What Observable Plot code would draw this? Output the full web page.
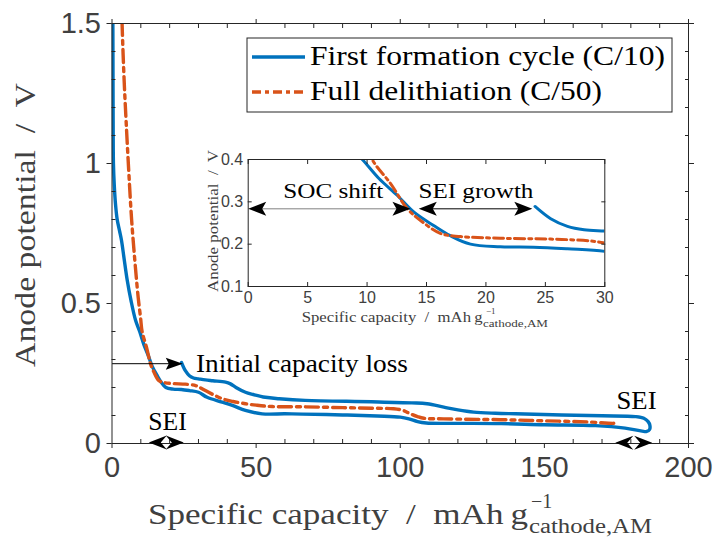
<!DOCTYPE html>
<html><head><meta charset="utf-8">
<script src="https://cdn.jsdelivr.net/npm/d3@7"></script>
<script src="https://cdn.jsdelivr.net/npm/@observablehq/plot@0.6"></script>
<style>
body{margin:0;background:#fff}
#wrap{position:relative;width:714px;height:540px;overflow:hidden}
#wrap svg{position:absolute}
text{white-space:pre}
</style>
</head><body><div id="wrap"></div>
<script>
// ---- data: first formation cycle (C/10), lithiation then delithiation
const formX = [0.2,0.3,0.35,0.4,0.5,0.8,1.2,1.8,2.6,3.3,4.2,5.3,6.6,8.2,9.6,11.0,12.55,13.95,15.6,17.0,18.7,21.2,24.0,26.85,30,33,38.2,42,46.3,52.1,60,66,80,92,100,103,106,109,120,135,150,167.7,178,183.9,185.5,186.5,186.6,186,184.5,181.6,170,156,140,133,125.5,120,115.1,109.3,104,90,67,58,53.2,49,46.3,43,41.1,39.4,35,32.4,30,28.26,26.86,25.45,24.13];
const formY = [1.6,1.5,1.3,1.15,1.0,0.92,0.857,0.8,0.76,0.725,0.66,0.582,0.51,0.439,0.40,0.355,0.315,0.2755,0.244,0.22,0.20,0.194,0.193,0.189,0.183,0.165,0.148,0.135,0.118,0.106,0.106,0.105,0.102,0.098,0.094,0.088,0.078,0.073,0.072,0.071,0.067,0.064,0.055,0.044,0.043,0.05,0.065,0.078,0.09,0.096,0.099,0.102,0.106,0.108,0.112,0.12,0.13,0.142,0.145,0.149,0.154,0.16,0.165,0.175,0.183,0.2,0.213,0.219,0.224,0.227,0.231,0.234,0.242,0.26,0.289];
// ---- data: full delithiation (C/50)
const delithX = [3.3,3.5,4.2,4.9,5.8,6.8,8.2,9.1,9.9,10.44,11.98,13.38,14.5,16.2,17.87,21.2,25.45,29,30.5,32.4,35,38.2,42,46.3,50,55.6,67,80,90,97.7,101,103.5,106,108.2,115,134.8,150,165,174.6,175.3];
const delithY = [1.6,1.5,1.3,1.15,0.975,0.8,0.62,0.52,0.45,0.4,0.343,0.284,0.256,0.225,0.218,0.214,0.212,0.207,0.2,0.189,0.175,0.16,0.15,0.142,0.137,0.132,0.131,0.128,0.126,0.124,0.118,0.106,0.096,0.09,0.088,0.085,0.081,0.077,0.0725,0.075];

const seriesNames = ["First formation cycle (C/10)", "Full delithiation (C/50)"];
const seriesColors = ["#0072BD", "#D95319"];

// ---- ticks
const xMajor = [0,50,100,150,200];
const xMinor = [10,20,30,40,60,70,80,90,110,120,130,140,160,170,180,190];
const yMajor = [0,0.5,1,1.5];
const yMinor = [0.1,0.2,0.3,0.4,0.6,0.7,0.8,0.9,1.1,1.2,1.3,1.4];
const insetXTicks = [0,5,10,15,20,25,30];
const insetYTicks = [0.1,0.2,0.3,0.4];

// ---- annotations (main)
const lossLineX = [0, 22.0];
const lossLineY = 0.285;
const mainHeadX = [24.56, 12.76, 24.9, 174.6, 187.4];
const mainHeadY = [0.285, 0.004, 0.004, 0.003, 0.003];
const mainHeadDir = [90, -90, 90, -90, 90];
const mainNoteText = ["Initial capacity loss", "SEI", "SEI"];
const mainNoteX = [29.3, 12.76, 175.2];
const mainNoteY = [0.254, 0.046, 0.120];
// ---- annotations (inset)
const socX = [0, 13.65];
const growthX = [14.35, 23.9];
const insetArrowY = 0.2835;
const insetNoteText = ["SOC shift", "SEI growth"];
const insetNoteX = [7.2, 19.2];
const insetNoteY = 0.307;

// ---- build tables
const formation = formX.map((x, i) => ({x, y: formY[i]}));
const delith = delithX.map((x, i) => ({x, y: delithY[i]}));
const lossHead = [{x: mainHeadX[0], y: mainHeadY[0], dir: mainHeadDir[0]}];
const seiHeads = mainHeadX.slice(1).map((x, i) => ({x, y: mainHeadY[i + 1], dir: mainHeadDir[i + 1]}));
const insetHeads = [
  {x: socX[0], y: insetArrowY, dir: -90}, {x: socX[1], y: insetArrowY, dir: 90},
  {x: growthX[0], y: insetArrowY, dir: -90}, {x: growthX[1], y: insetArrowY, dir: 90}
];

function headSymbol(L, W, notch) {
  return {draw(ctx) {
    ctx.moveTo(0, 0);
    ctx.lineTo(W / 2, L);
    ctx.lineTo(0, L - notch);
    ctx.lineTo(-W / 2, L);
    ctx.closePath();
  }};
}

const SERIF = "'Liberation Serif', 'Times New Roman', serif";
const SANS = "'Liberation Sans', Arial, sans-serif";
const DASH = "13,5,4,5";

const main = Plot.plot({
  width: 714, height: 540,
  marginLeft: 111.5, marginRight: 26, marginTop: 23, marginBottom: 97,
  x: {domain: [0, 200]},
  y: {domain: [0, 1.5]},
  style: {fontFamily: SANS, fontSize: "29px", color: "#262626", background: "transparent", overflow: "visible"},
  marks: [
    Plot.line(formation, {x: "x", y: "y", stroke: seriesColors[0], strokeWidth: 3.4, curve: "catmull-rom", clip: true}),
    Plot.line(delith, {x: "x", y: "y", stroke: seriesColors[1], strokeWidth: 3.4, strokeDasharray: DASH, curve: "catmull-rom", clip: true}),
    Plot.link([0], {x1: () => lossLineX[0], x2: () => lossLineX[1], y1: () => lossLineY, y2: () => lossLineY, stroke: "black", strokeWidth: 1}),
    Plot.frame({stroke: "#262626"}),
    Plot.axisX({ticks: xMajor, tickSize: 5, tickPadding: 8, tickFormat: d => String(d), label: null, fill: "#404040", fontSize: 29}),
    Plot.axisX({ticks: xMinor, tickSize: -4, text: null, label: null}),
    Plot.axisX({anchor: "top", ticks: xMajor, tickSize: 5, text: null, label: null}),
    Plot.axisX({anchor: "top", ticks: xMinor, tickSize: -4, text: null, label: null}),
    Plot.axisY({ticks: yMajor, tickSize: 5, tickPadding: 6, tickFormat: d => String(d), label: null, fill: "#404040", fontSize: 29}),
    Plot.axisY({ticks: yMinor, tickSize: -4, text: null, label: null}),
    Plot.axisY({anchor: "right", ticks: yMajor, tickSize: 5, text: null, label: null}),
    Plot.axisY({anchor: "right", ticks: yMinor, tickSize: -4, text: null, label: null}),
    Plot.dot(lossHead, {x: "x", y: "y", rotate: "dir", r: 5, symbol: headSymbol(17, 12, 3), fill: "black", stroke: null}),
    Plot.dot(seiHeads, {x: "x", y: "y", rotate: "dir", r: 5, symbol: headSymbol(18, 14, 6), fill: "black", stroke: null})
  ]
});
document.getElementById("wrap").appendChild(main);
main.style.left = "0px"; main.style.top = "0px";

function addText(svg, {x, y, text, size, family = SERIF, fill = "#000", anchor = "start", length, rotate}) {
  const t = d3.select(svg).append("text")
    .attr("transform", `translate(${x},${y})` + (rotate ? ` rotate(${rotate})` : ""))
    .attr("font-family", family).attr("font-size", size).attr("fill", fill)
    .attr("text-anchor", anchor).text(text);
  if (length) t.attr("textLength", length).attr("lengthAdjust", "spacingAndGlyphs");
  return t;
}

const sx = main.scale("x"), sy = main.scale("y");
// main annotations
const noteLen = [212, 38.4, 40];
mainNoteText.forEach((t, i) => addText(main, {x: sx.apply(mainNoteX[i]), y: sy.apply(mainNoteY[i]), text: t, size: 25, length: noteLen[i]}));

// axis labels
addText(main, {x: 148, y: 524, text: "Specific capacity  /  mAh\u2009g", size: 30, fill: "#404040", length: 380});
addText(main, {x: 531, y: 508, text: "\u22121", size: 20, fill: "#404040"});
addText(main, {x: 529, y: 533, text: "cathode,AM", size: 20, fill: "#404040", length: 123});
addText(main, {x: 35, y: 225, text: "Anode potential  /  V", size: 30, fill: "#404040", anchor: "middle", rotate: -90, length: 284});

// legend
const lg = d3.select(main).append("g");
lg.append("rect").attr("x", 247).attr("y", 38).attr("width", 425).attr("height", 74)
  .attr("fill", "white").attr("stroke", "#262626").attr("stroke-width", 1);
const legY = [57, 92], legLen = [355, 292];
seriesNames.forEach((name, i) => {
  lg.append("line").attr("x1", 252).attr("x2", 305).attr("y1", legY[i]).attr("y2", legY[i])
    .attr("stroke", seriesColors[i]).attr("stroke-width", 3.4)
    .attr("stroke-dasharray", i === 1 ? "9,4,4,4" : null);
  addText(lg.node(), {x: 310, y: legY[i] + 8, text: name, size: 27, length: legLen[i]});
});

// ---- inset
const inset = Plot.plot({
  width: 460, height: 200,
  marginLeft: 47.7, marginRight: 55.7, marginTop: 19, marginBottom: 54,
  x: {domain: [0, 30]},
  y: {domain: [0.1, 0.4]},
  style: {fontFamily: SANS, fontSize: "16px", color: "#262626", background: "transparent", overflow: "visible"},
  marks: [
    Plot.frame({fill: "white", stroke: null}),
    Plot.line(formation, {x: "x", y: "y", stroke: seriesColors[0], strokeWidth: 3, curve: "catmull-rom", clip: true}),
    Plot.line(delith, {x: "x", y: "y", stroke: seriesColors[1], strokeWidth: 3, strokeDasharray: "10,4,3,4", curve: "catmull-rom", clip: true}),
    Plot.link([0], {x1: () => socX[0] + 0.5, x2: () => socX[1] - 0.5, y1: () => insetArrowY, y2: () => insetArrowY, stroke: "#808080", strokeWidth: 1}),
    Plot.link([0], {x1: () => growthX[0] + 0.5, x2: () => growthX[1] - 0.5, y1: () => insetArrowY, y2: () => insetArrowY, stroke: "black", strokeWidth: 1}),
    Plot.frame({stroke: "#262626"}),
    Plot.axisX({ticks: insetXTicks, tickSize: 0, tickPadding: 5, tickFormat: d => String(d), label: null, fill: "#404040", fontSize: 16}),
    Plot.axisX({ticks: insetXTicks, tickSize: -4, text: null, label: null}),
    Plot.axisX({anchor: "top", ticks: insetXTicks, tickSize: -4, text: null, label: null}),
    Plot.axisY({ticks: insetYTicks, tickSize: 0, tickPadding: 5, tickFormat: d => d.toFixed(1), label: null, fill: "#404040", fontSize: 16}),
    Plot.axisY({ticks: insetYTicks, tickSize: -4, text: null, label: null}),
    Plot.axisY({anchor: "right", ticks: insetYTicks, tickSize: -4, text: null, label: null}),
    Plot.dot(insetHeads, {x: "x", y: "y", rotate: "dir", r: 5, symbol: headSymbol(18, 14, 4), fill: "black", stroke: null})
  ]
});
document.getElementById("wrap").appendChild(inset);
inset.style.left = "200px"; inset.style.top = "140px";
const ix = inset.scale("x"), iy = inset.scale("y");
const insetNoteLen = [100, 115];
insetNoteText.forEach((t, i) => addText(inset, {x: ix.apply(insetNoteX[i]), y: iy.apply(insetNoteY), text: t, size: 20, anchor: "middle", length: insetNoteLen[i]}));
addText(inset, {x: 101.7, y: 182, text: "Specific capacity  /  mAh\u2009g", size: 15, fill: "#404040", length: 181});
addText(inset, {x: 286, y: 174, text: "\u22121", size: 9, fill: "#404040"});
addText(inset, {x: 283, y: 187, text: "cathode,AM", size: 10, fill: "#404040", length: 65});
addText(inset, {x: 18, y: 81, text: "Anode potential  /  V", size: 15, fill: "#404040", anchor: "middle", rotate: -90, length: 142});
</script>
</body></html>
